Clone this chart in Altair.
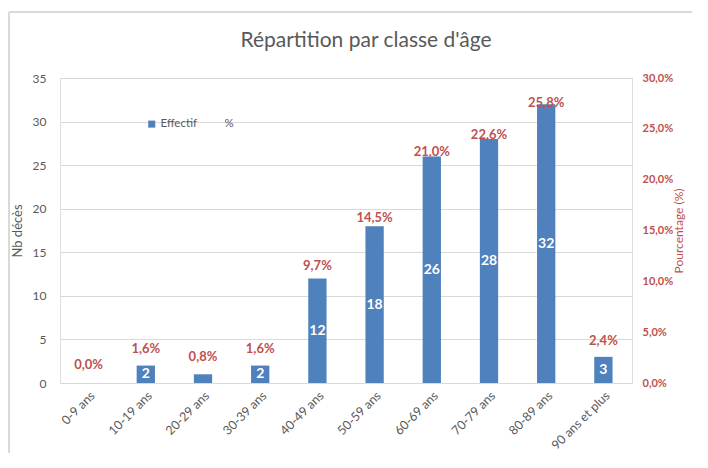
import altair as alt
import pandas as pd

categories = ["0-9 ans", "10-19 ans", "20-29 ans", "30-39 ans", "40-49 ans",
              "50-59 ans", "60-69 ans", "70-79 ans", "80-89 ans", "90 ans et plus"]
effectif = [0, 2, 1, 2, 12, 18, 26, 28, 32, 3]
pourcentage = [0.0, 1.6, 0.8, 1.6, 9.7, 14.5, 21.0, 22.6, 25.8, 2.4]

df = pd.DataFrame({
    "classe": categories,
    "effectif": effectif,
    "pct": pourcentage,
    "serie": ["Effectif"] * len(categories),
})
df["pct_label"] = [f"{p:.1f}%".replace(".", ",") for p in pourcentage]

FONT = "Lato"
GRAY = "#595959"
RED = "#C0504D"
BLUE = "#4F81BD"
GRID = "#D9D9D9"

x = alt.X("classe:N", sort=categories, title=None,
          scale=alt.Scale(paddingInner=0.68, paddingOuter=0.34),
          axis=alt.Axis(labelAngle=-45, labelFontSize=12.5, labelColor=GRAY, labelFont=FONT,
                        ticks=False, domainColor=GRID, labelPadding=6))

left_axis = alt.Axis(values=[0, 5, 10, 15, 20, 25, 30, 35], labelFontSize=12,
                     labelColor=GRAY, labelFont=FONT, titleFont=FONT, titleFontSize=13,
                     titleColor=GRAY, titleFontWeight="normal", domain=False, ticks=False,
                     gridColor=GRID, labelPadding=14, titlePadding=8)
yscale = alt.Scale(domain=[0, 35], nice=False)

bars = alt.Chart(df).mark_bar(strokeWidth=0).encode(
    x=x,
    y=alt.Y("effectif:Q", title="Nb décès", scale=yscale, axis=left_axis),
    color=alt.Color("serie:N", scale=alt.Scale(domain=["Effectif", "%"],
                                                range=[BLUE, "rgba(0,0,0,0)"]),
                    legend=alt.Legend(title=None, orient="none", legendX=86, legendY=40,
                                      direction="horizontal", symbolType="square",
                                      symbolSize=50, labelFontSize=11.5, labelColor=GRAY,
                                      labelFont=FONT, columnPadding=12, labelOffset=3,
                                      symbolStrokeWidth=0)),
)

counts = alt.Chart(df).transform_filter("datum.effectif > 1").transform_calculate(
    mid="datum.effectif / 2"
).mark_text(color="white", fontWeight="bold", fontSize=14, font=FONT).encode(
    x=x,
    y=alt.Y("mid:Q", title="Nb décès", scale=yscale, axis=left_axis),
    text=alt.Text("effectif:Q"),
)

frame_v = alt.Chart(df).mark_rule(color=GRID, strokeWidth=1.5).encode(
    x=alt.value(-51), y=alt.value(-66), y2=alt.value(395))
frame_h = alt.Chart(df).mark_rule(color=GRID, strokeWidth=1.5).encode(
    x=alt.value(-51), x2=alt.value(632), y=alt.value(-66))

left = alt.layer(bars, counts, frame_v, frame_h)

pct_text = alt.Chart(df).mark_text(color=RED, fontWeight="bold", fontSize=13, font=FONT,
                                   dy=-18).encode(
    x=x,
    y=alt.Y("pct:Q", title="Pourcentage (%)",
            scale=alt.Scale(domain=[0, 30], nice=False),
            axis=alt.Axis(orient="right", values=[0, 5, 10, 15, 20, 25, 30],
                          labelExpr="replace(format(datum.value, '.1f'), '.', ',') + '%'",
                          labelFontSize=11, labelColor=RED, labelFontWeight="bold",
                          labelFont=FONT, titleFont=FONT, titleFontSize=12, titleColor=RED,
                          titleFontWeight="normal", titleAngle=270, titleBaseline="bottom",
                          domain=False, ticks=False,
                          grid=False, labelPadding=10, titlePadding=13)),
    text="pct_label:N",
)

chart = alt.layer(left, pct_text).resolve_scale(y="independent").properties(
    width=572, height=305,
    title=alt.Title("Répartition par classe d'âge", fontSize=21, font=FONT, color=GRAY,
                    fontWeight="normal", offset=-40, dx=20),
    autosize=alt.AutoSizeParams(type="none"),
    padding={"left": 52, "top": 70, "right": 60, "bottom": 70},
).configure_view(strokeWidth=0).configure(background="white")

chart.save("out.html", embed_options={"renderer": "svg", "actions": False})
